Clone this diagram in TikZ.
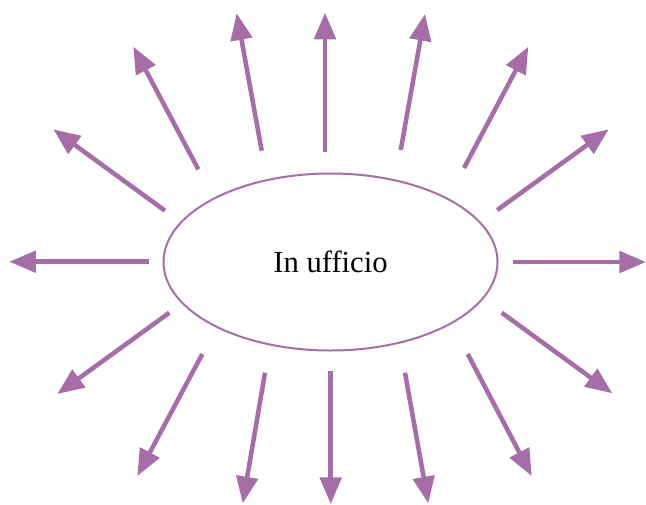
\documentclass[tikz,border=0pt]{standalone}
\usepackage{fontspec}
\setmainfont{Liberation Serif}
\usetikzlibrary{arrows.meta,shapes.geometric}
\definecolor{viola}{RGB}{166,109,168}
\tikzset{
  raggio/.style={draw=viola,line width=3.4pt,-{Triangle[length=20pt,width=16pt]}},
  stato/.style={ellipse,draw=viola,line width=1.5pt,minimum width=250.5pt,
    minimum height=132.75pt,font=\fontsize{23}{28}\selectfont}
}

\begin{document}
\begin{tikzpicture}[x=0.75pt,y=-0.75pt]
\useasboundingbox (0,0) rectangle (646,504);
\node[stato] (ufficio) at (330.5,262) {In ufficio};
% raggi: inizio / punta
\foreach \i/\xa/\ya/\xb/\yb in {
  1/513/262/646/262, 2/497.3/210/608.7/129.3, 3/464/168/528.3/46.7,
  4/400.7/150/425/14, 5/325/151.7/325/12.7, 6/261.7/150.7/236.7/13.3,
  7/198.3/169.3/133.3/46.7, 8/165/210.7/53.3/129.3, 9/149/261.7/9.3/261.7,
  10/169.3/312.7/57.3/394, 11/202.3/354/137.3/476, 12/265/372.7/242.7/503.3,
  13/330.7/371.3/330.7/504, 14/405/372.7/428.3/503.3, 15/467.7/354/531.7/476,
  16/501.7/312.7/612.3/393.3}
{
  \coordinate (a\i) at (\xa,\ya);
  \coordinate (b\i) at (\xb,\yb);
  \draw[raggio] (a\i) -- (b\i);
}
\end{tikzpicture}
\end{document}
